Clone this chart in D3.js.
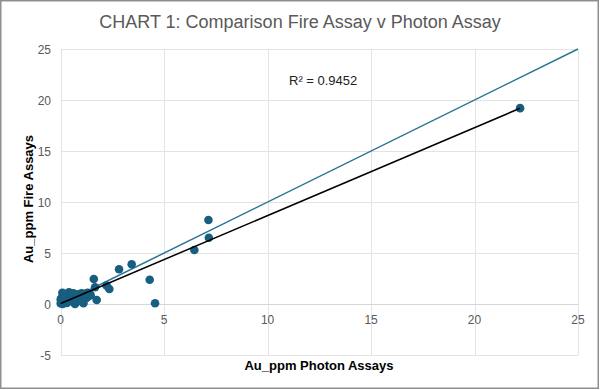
<!DOCTYPE html>
<html><head><meta charset="utf-8">
<script src="https://cdn.jsdelivr.net/npm/d3@7"></script>
<style>body{margin:0;background:#fff}svg{display:block}</style>
</head><body><svg id="c" width="600" height="390"></svg>
<script>
const photon = [22.2,7.14,7.16,6.46,3.43,2.82,1.6,4.3,2.35,2.22,1.66,4.56,1.74,
  0,0.02,0.05,0.08,0.1,0.12,0.15,0.2,0.25,0.3,0.35,0.4,0.45,0.5,0.55,0.6,0.65,0.7,0.75,0.8,0.85,0.9,0.95,1.0,1.05,1.1,1.15,1.2,1.3,1.4,1.45,1.1,0.69,0.3,0.0,0.1,
  0.2,0.4,0.55,0.6,0.75,0.9,1.0,1.25,0.15,0.35,0.8,1.35];
const fire =   [19.2,8.24,6.5,5.3,3.89,3.4,2.45,2.38,1.47,1.8,1.64,0.07,0.39,
  0.05,0.3,0.6,1.1,0.15,0.45,0.7,0.25,0.5,0.8,0.35,1.15,0.6,0.9,0.45,0.75,1.0,0.55,0.85,0.4,0.95,0.7,0.6,1.05,0.8,0.65,1.0,0.9,1.1,1.0,0.85,0.07,0.0,0.1,0.45,0.0,
  0.6,0.55,0.3,1.05,0.2,0.3,0.4,0.6,0.9,0.2,0.65,0.8];
const xTicks = [0,5,10,15,20,25];
const yTicks = [-5,0,5,10,15,20,25];
const trendSlope = 0.862, trendIntercept = 0.05;
const r2Label = "R² = 0.9452";

const svg = d3.select("#c");
const x = d3.scaleLinear().domain([0,25]).range([60.7,578]);
const y = d3.scaleLinear().domain([-5,25]).range([355,49]);
const font = "'Liberation Sans', Arial, sans-serif";

svg.append("rect").attr("x",0.75).attr("y",0.75).attr("width",597.5).attr("height",387.5)
  .attr("fill","#fff").attr("stroke","#8f8f8f").attr("stroke-width",1.5);

const g = svg.append("g");
g.selectAll(".vx").data(xTicks).join("line")
  .attr("x1",d=>Math.round(x(d))+0.5).attr("x2",d=>Math.round(x(d))+0.5)
  .attr("y1",y(25)).attr("y2",y(-5)).attr("stroke","#e3e3e3").attr("stroke-width",1);
g.selectAll(".hy").data(yTicks).join("line")
  .attr("y1",d=>Math.round(y(d))+0.5).attr("y2",d=>Math.round(y(d))+0.5)
  .attr("x1",x(0)).attr("x2",x(25)).attr("stroke",d=>d===0?"#d6d6d6":"#e3e3e3").attr("stroke-width",1);

svg.selectAll(".yl").data(yTicks).join("text")
  .attr("x",51).attr("y",d=>y(d)+4.5).attr("text-anchor","end")
  .attr("font-family",font).attr("font-size",12).attr("fill","#595959").text(d=>d);
svg.selectAll(".xl").data(xTicks).join("text")
  .attr("x",d=>x(d)).attr("y",y(0)+20).attr("text-anchor","middle")
  .attr("font-family",font).attr("font-size",12).attr("fill","#595959").text(d=>d);

svg.append("line").attr("x1",x(0)).attr("y1",y(0)).attr("x2",x(25)).attr("y2",y(25))
  .attr("stroke","#2a7497").attr("stroke-width",1.5);

const pts = photon.map((v,i)=>[v,fire[i]]);
svg.append("g").selectAll("circle").data(pts).join("circle")
  .attr("cx",d=>x(d[0])).attr("cy",d=>y(d[1])).attr("r",4.3).attr("fill","#175e80");

const xmin = d3.min(photon), xmax = d3.max(photon);
svg.append("line").attr("x1",x(xmin)).attr("y1",y(trendIntercept+trendSlope*xmin))
  .attr("x2",x(xmax)).attr("y2",y(trendIntercept+trendSlope*xmax))
  .attr("stroke","#000").attr("stroke-width",1.5);

svg.append("text").attr("x",289).attr("y",85).attr("font-family",font).attr("font-size",13)
  .attr("fill","#222").text(r2Label);

svg.append("text").attr("x",300).attr("y",28).attr("text-anchor","middle")
  .attr("font-family",font).attr("font-size",18).attr("fill","#595959")
  .text("CHART 1: Comparison Fire Assay v Photon Assay");

svg.append("text").attr("x",319).attr("y",370).attr("text-anchor","middle")
  .attr("font-family",font).attr("font-size",13).attr("font-weight","bold").attr("fill","#000")
  .text("Au_ppm Photon Assays");
svg.append("text").attr("transform","translate(33,199) rotate(-90)").attr("text-anchor","middle")
  .attr("font-family",font).attr("font-size",13).attr("font-weight","bold").attr("fill","#000")
  .text("Au_ppm Fire Assays");
</script></body></html>
